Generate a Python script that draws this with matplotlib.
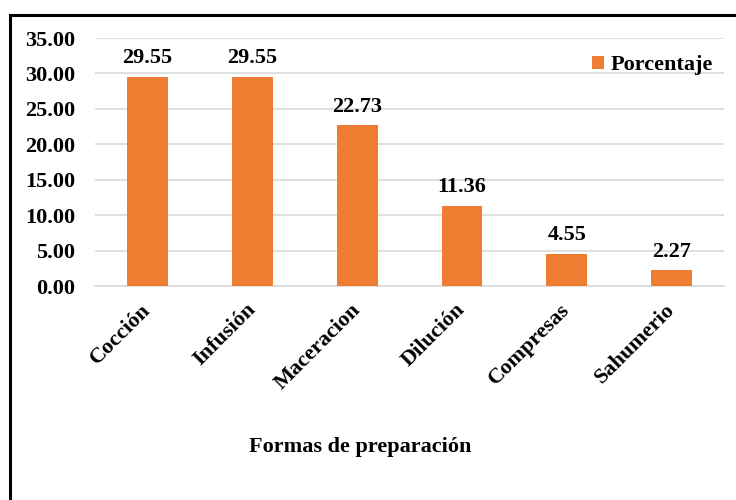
import matplotlib
matplotlib.use("Agg")
import matplotlib.pyplot as plt
from matplotlib.patches import Rectangle

categorias = ["Cocción", "Infusión", "Maceracion", "Dilución", "Compresas", "Sahumerio"]
porcentaje = [29.55, 29.55, 22.73, 11.36, 4.55, 2.27]
yticks = [0, 5, 10, 15, 20, 25, 30, 35]

plt.rcParams['font.family'] = ['Liberation Serif', 'DejaVu Serif']
plt.rcParams['font.weight'] = 'bold'

fig = plt.figure(figsize=(7.36, 5.0), dpi=100)
ax = fig.add_axes([0.129, 0.428, 0.855, 0.496])

naranja = '#ED7D31'
x = range(len(categorias))
bars = ax.bar(x, porcentaje, width=0.39, color=naranja, label='Porcentaje', zorder=3)

for b, v in zip(bars, porcentaje):
    ax.annotate(f"{v:.2f}", (b.get_x() + b.get_width() / 2, v),
                xytext=(0, 6), textcoords='offset points',
                ha='center', va='bottom', fontsize=16, fontweight='bold')

ax.set_xlim(-0.5, len(categorias) - 0.5)
ax.set_ylim(0, 35)
ax.set_yticks(yticks)
ax.set_yticklabels([f"{t:.2f}" for t in yticks], fontsize=16, fontweight='bold')
ax.set_xticks(list(x))
ax.set_xticklabels(categorias, rotation=45, ha='right', va='center',
                   rotation_mode='anchor', fontsize=16, fontweight='bold')
ax.tick_params(axis='x', length=0, pad=15)
ax.tick_params(axis='y', length=0, pad=14)

ax.grid(axis='y', color='#D9D9D9', linewidth=1.2, zorder=0)
for s in ['top', 'right', 'left']:
    ax.spines[s].set_visible(False)
ax.spines['bottom'].set_color('#D9D9D9')
ax.spines['bottom'].set_linewidth(1.2)

ax.legend(loc='center right', bbox_to_anchor=(1.0, 0.89), frameon=False,
          handlelength=0.55, handleheight=0.55, handletextpad=0.3,
          borderaxespad=0.1, prop={'size': 16, 'weight': 'bold'})

fig.text(0.49, 0.106, "Formas de preparación", ha='center', va='center',
         fontsize=16, fontweight='bold')

# marco de la figura (cortado por la derecha y abajo)
fig.add_artist(Rectangle((10 / 736, -0.1), 1.2, 0.1 + (500 - 15) / 500,
                         transform=fig.transFigure, fill=False,
                         edgecolor='black', linewidth=2.2, clip_on=False))

fig.savefig("out.png", dpi=100)
